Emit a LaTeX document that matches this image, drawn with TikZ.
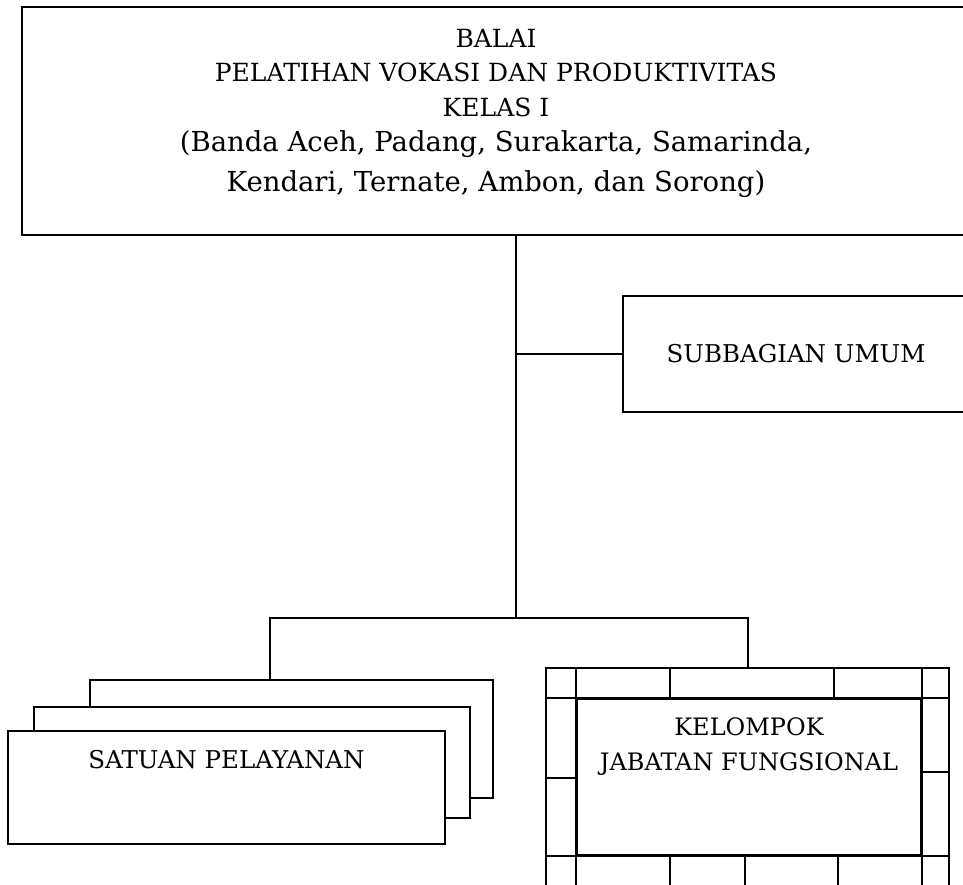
\documentclass[tikz,border=0pt]{standalone}
\usepackage{fontspec}
\setmainfont{DejaVu Serif}
\usetikzlibrary{positioning}
\newcommand\cityfont{\fontsize{27.5}{40}\selectfont}

\begin{document}
\begin{tikzpicture}[x=1pt, y=-1pt, line width=2pt,
  box/.style={draw, fill=white, inner sep=0pt},
  lbl/.style={inner sep=0pt, align=center, font=\fontsize{24.5}{35}\selectfont}]
\clip (0,0) rectangle (963,884);
% head office and the general subdivision
\node[box, minimum width=948pt, minimum height=228pt] (balai) at (496,121) {};
\node[lbl, font=\fontsize{25}{34.5}\selectfont, below=22pt of balai.north] (balaitxt) {BALAI\\PELATIHAN VOKASI DAN PRODUKTIVITAS\\KELAS I\\[1pt]\cityfont(Banda Aceh, Padang, Surakarta, Samarinda,\\[5pt]\cityfont Kendari, Ternate, Ambon, dan Sorong)};
\node[box, lbl, minimum width=346pt, minimum height=116pt] (subbag) at (796,354) {SUBBAGIAN UMUM};
% stacked service units, back to front
\foreach \n/\cx/\cy/\w/\h in {3/291.5/739/403pt/118pt, 2/252/762.5/436pt/111pt, 1/226.5/787.5/437pt/113pt}
  \node[box, minimum width=\w, minimum height=\h] (sat\n) at (\cx,\cy) {};
\node[lbl, below=19pt of sat1.north] (sattxt) {SATUAN PELAYANAN};
% functional group with its framed border
\node[box, minimum width=403pt, minimum height=247pt] (kjfframe) at (747.5,791.5) {};
\node[box, minimum width=344pt, minimum height=156pt] (kjf) at (749,777) {};
\node[lbl, font=\fontsize{24}{35}\selectfont, below=19pt of kjf.north] (kjftxt) {KELOMPOK\\JABATAN FUNGSIONAL};
\draw (kjf.north -| kjfframe.west) -- (kjf.north -| kjfframe.east);
\draw (kjf.south -| kjfframe.west) -- (kjf.south -| kjfframe.east);
\draw (kjf.west |- kjfframe.north) -- (kjf.west |- kjfframe.south);
\draw (kjf.east |- kjfframe.north) -- (kjf.east |- kjfframe.south);
\foreach \x in {670,834} \draw (\x,0 |- kjfframe.north) -- (\x,0 |- kjf.north);
\foreach \x in {670,745,838} \draw (\x,0 |- kjf.south) -- (\x,0 |- kjfframe.south);
\draw (kjfframe.west |- 0,778) -- (kjf.west |- 0,778);
\draw (kjf.east |- 0,772) -- (kjfframe.east |- 0,772);
% connectors
\coordinate (split) at (516,618);
\draw (balai.south -| split) -- (split);
\draw (subbag.west -| split) -- (subbag.west);
\draw (sat3.north -| 270,0) |- (split) -| (kjfframe.north);
\end{tikzpicture}
\end{document}
